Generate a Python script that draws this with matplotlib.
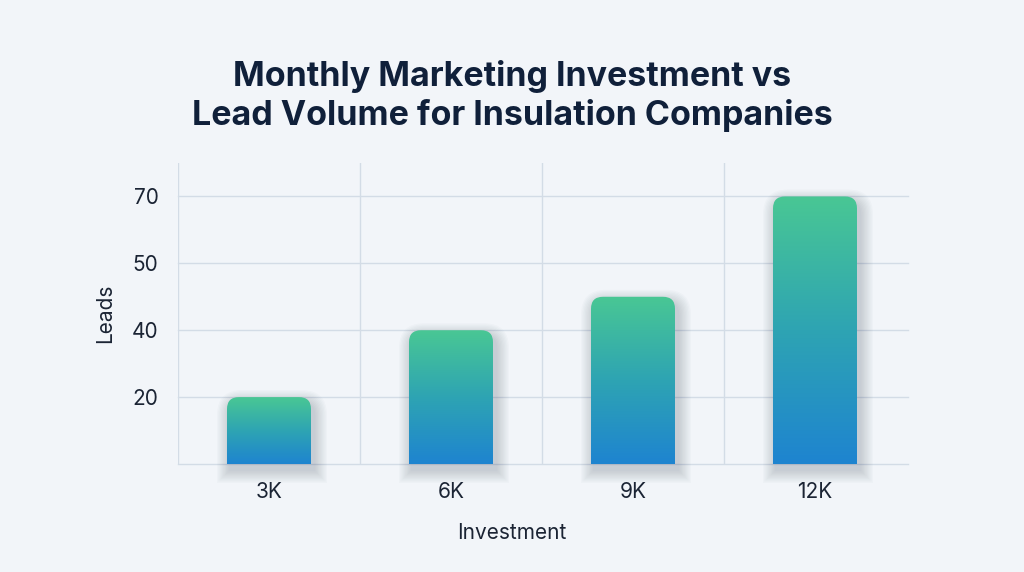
import numpy as np
import matplotlib
matplotlib.use("Agg")
import matplotlib.pyplot as plt
from matplotlib.path import Path
from matplotlib.patches import PathPatch
from matplotlib.colors import LinearSegmentedColormap

# ---- data ----
categories = ["3K", "6K", "9K", "12K"]
leads = [20, 40, 45, 70]
ytick_labels = [20, 40, 50, 70]
title = "Monthly Marketing Investment vs\nLead Volume for Insulation Companies"
xlabel = "Investment"
ylabel = "Leads"

plt.rcParams['font.family'] = ['Inter', 'DejaVu Sans']
BG = "#f2f5f9"
GRID = "#d3dce6"
TEXT = "#1b2434"

fig = plt.figure(figsize=(10.24, 5.72), dpi=100, facecolor=BG)
ax = fig.add_axes([178/1024, 1-464/572, (906-178)/1024, (464-163)/572])
ax.set_facecolor(BG)

tick_pos = np.arange(1, len(ytick_labels) + 1)
def ymap(v):
    return np.interp(v, [0] + ytick_labels, [0] + list(tick_pos))

n = len(categories)
ax.set_xlim(0, n)
ax.set_ylim(0, 4.5)

for x in range(n):
    ax.plot([x, x], [0, 4.5], color=GRID, lw=1, zorder=0.5)
for y in [0] + list(tick_pos):
    ax.plot([0, n + 0.01], [y, y], color=GRID, lw=1, zorder=0.5, clip_on=False)

cmap = LinearSegmentedColormap.from_list("g", ["#1e84d0", "#2ea4b3", "#49c794"])
grad = np.linspace(0, 1, 256).reshape(-1, 1)

px_x = 182.0
px_y = 67.0
bw = 84 / px_x
r = 12

def top_rounded(x0, x1, h, rx, ry):
    verts = [(x0, 0), (x0, h - ry), (x0, h), (x0 + rx, h), (x1 - rx, h),
             (x1, h), (x1, h - ry), (x1, 0), (x0, 0)]
    codes = [Path.MOVETO, Path.LINETO, Path.CURVE3, Path.CURVE3, Path.LINETO,
             Path.CURVE3, Path.CURVE3, Path.LINETO, Path.CLOSEPOLY]
    return Path(verts, codes)

for i, v in enumerate(leads):
    h = float(ymap(v))
    xc = i + 0.5
    x0, x1 = xc - bw / 2, xc + bw / 2
    for k in range(10):
        e = (k + 1) * 1.3
        dx, dy = 3 / px_x, -6 / px_y
        p = top_rounded(x0 - e / px_x + dx, x1 + e / px_x + dx, h + e / px_y + dy,
                        (r + e) / px_x, (r + e) / px_y)
        p = Path(np.array([(a, b if b > 0 else -e / px_y + dy) for a, b in p.vertices]),
                 p.codes)
        ax.add_patch(PathPatch(p, facecolor="#1b2a44", edgecolor="none",
                               alpha=0.02, zorder=1, clip_on=False))
    path = top_rounded(x0, x1, h, r / px_x, r / px_y)
    patch = PathPatch(path, facecolor="none", edgecolor="none", zorder=2)
    ax.add_patch(patch)
    im = ax.imshow(grad, cmap=cmap, origin="lower", aspect="auto",
                   extent=[x0, x1, 0, h], zorder=2, interpolation="bicubic")
    im.set_clip_path(patch)

ax.set_xlim(0, n)
ax.set_ylim(0, 4.5)
for s in ax.spines.values():
    s.set_visible(False)
ax.set_xticks(np.arange(n) + 0.5)
ax.set_xticklabels(categories)
ax.set_yticks(tick_pos)
ax.set_yticklabels([str(t) for t in ytick_labels])
ax.tick_params(length=0, labelsize=15, colors=TEXT)
ax.tick_params(axis='x', pad=13)
ax.tick_params(axis='y', pad=14)
ax.set_ylabel(ylabel, fontsize=15, color=TEXT, labelpad=12)

fig.text(0.5, 1 - 533/572, xlabel, ha="center", va="center", fontsize=15, color=TEXT)
fig.text(0.5, 1 - 96/572, title, ha="center", va="center", fontsize=24.5,
         fontweight="bold", color="#10203a", linespacing=1.2)

fig.savefig("out.png", dpi=100, facecolor=BG)
